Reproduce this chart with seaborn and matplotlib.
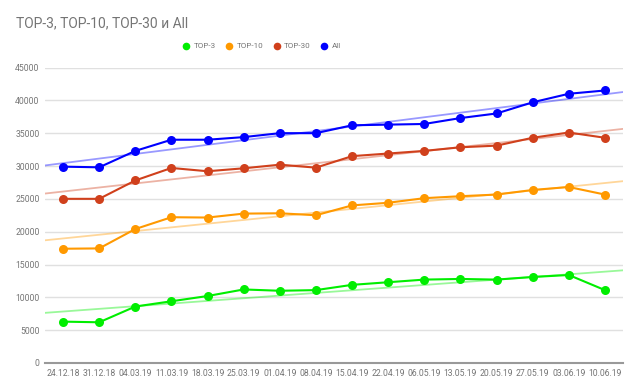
import numpy as np
import pandas as pd
import matplotlib
matplotlib.use("Agg")
import matplotlib.pyplot as plt
from matplotlib.lines import Line2D
import seaborn as sns

dates = ["24.12.18", "31.12.18", "04.03.19", "11.03.19", "18.03.19", "25.03.19",
         "01.04.19", "08.04.19", "15.04.19", "22.04.19", "06.05.19", "13.05.19",
         "20.05.19", "27.05.19", "03.06.19", "10.06.19"]

top3 = [6300, 6200, 8600, 9400, 10200, 11200, 11000, 11100,
        11900, 12300, 12700, 12800, 12700, 13100, 13400, 11100]
top10 = [17400, 17450, 20400, 22200, 22150, 22750, 22800, 22500,
         24000, 24400, 25100, 25400, 25650, 26350, 26800, 25650]
top30 = [25000, 25000, 27800, 29700, 29200, 29650, 30200, 29750,
         31500, 31900, 32300, 32850, 33100, 34300, 35100, 34300]
all_kw = [29900, 29800, 32300, 34000, 34000, 34400, 35000, 35000,
          36200, 36300, 36400, 37300, 38000, 39700, 41000, 41500]

series = {"TOP-3": top3, "TOP-10": top10, "TOP-30": top30, "All": all_kw}
colors = {"TOP-3": "#00ee00", "TOP-10": "#ff9900", "TOP-30": "#d0401c", "All": "#0000ff"}

sns.set_style("white")
plt.rcParams["font.family"] = ["Roboto", "DejaVu Sans"]

fig = plt.figure(figsize=(6.4, 3.92), dpi=100)
ax = fig.add_axes([45 / 640, 29 / 392, 578 / 640, 295.5 / 392])

x = np.arange(len(dates))
ax.set_xlim(-0.5, len(dates) - 0.5)
ax.set_ylim(0, 45000)

# trend lines first (drawn under the data)
for name, vals in series.items():
    sns.regplot(x=x, y=np.array(vals), ax=ax, ci=None, truncate=False,
                scatter=False, color=colors[name],
                line_kws={"alpha": 0.4, "linewidth": 1.3, "zorder": 2})

for name, vals in series.items():
    df = pd.DataFrame({"x": x, "y": vals})
    sns.lineplot(data=df, x="x", y="y", ax=ax, color=colors[name], marker="o",
                 markersize=6.5, markeredgewidth=0, linewidth=1.5, zorder=3)

ax.set_xlim(-0.5, len(dates) - 0.5)
ax.set_ylim(0, 45000)
ax.set_xticks(x)
ax.set_xticklabels(dates)
ax.set_yticks(np.arange(0, 45001, 5000))
ax.set_xlabel("")
ax.set_ylabel("")
ax.tick_params(axis="both", length=0, labelsize=6.2, colors="#757575", pad=4)
ax.grid(axis="y", color="#e0e0e0", linewidth=1)
ax.set_axisbelow(True)
for s in ["top", "right", "left"]:
    ax.spines[s].set_visible(False)
ax.spines["bottom"].set_color("#999999")
ax.spines["bottom"].set_linewidth(1.5)

fig.text(16 / 640, 1 - 23 / 392, "TOP-3, TOP-10, TOP-30 и All", fontsize=10,
         color="#757575", va="center", ha="left")

handles = [Line2D([], [], linestyle="none", marker="o", markersize=5.5,
                  markeredgewidth=0, color=colors[n]) for n in series]
fig.legend(handles, list(series.keys()), loc="center", ncol=4,
           bbox_to_anchor=(262 / 640, 1 - 46 / 392), frameon=False, fontsize=5.8,
           labelcolor="#757575", handletextpad=0.5, columnspacing=1.3,
           handlelength=0.8)

fig.savefig("out.png", dpi=100, facecolor="white")
